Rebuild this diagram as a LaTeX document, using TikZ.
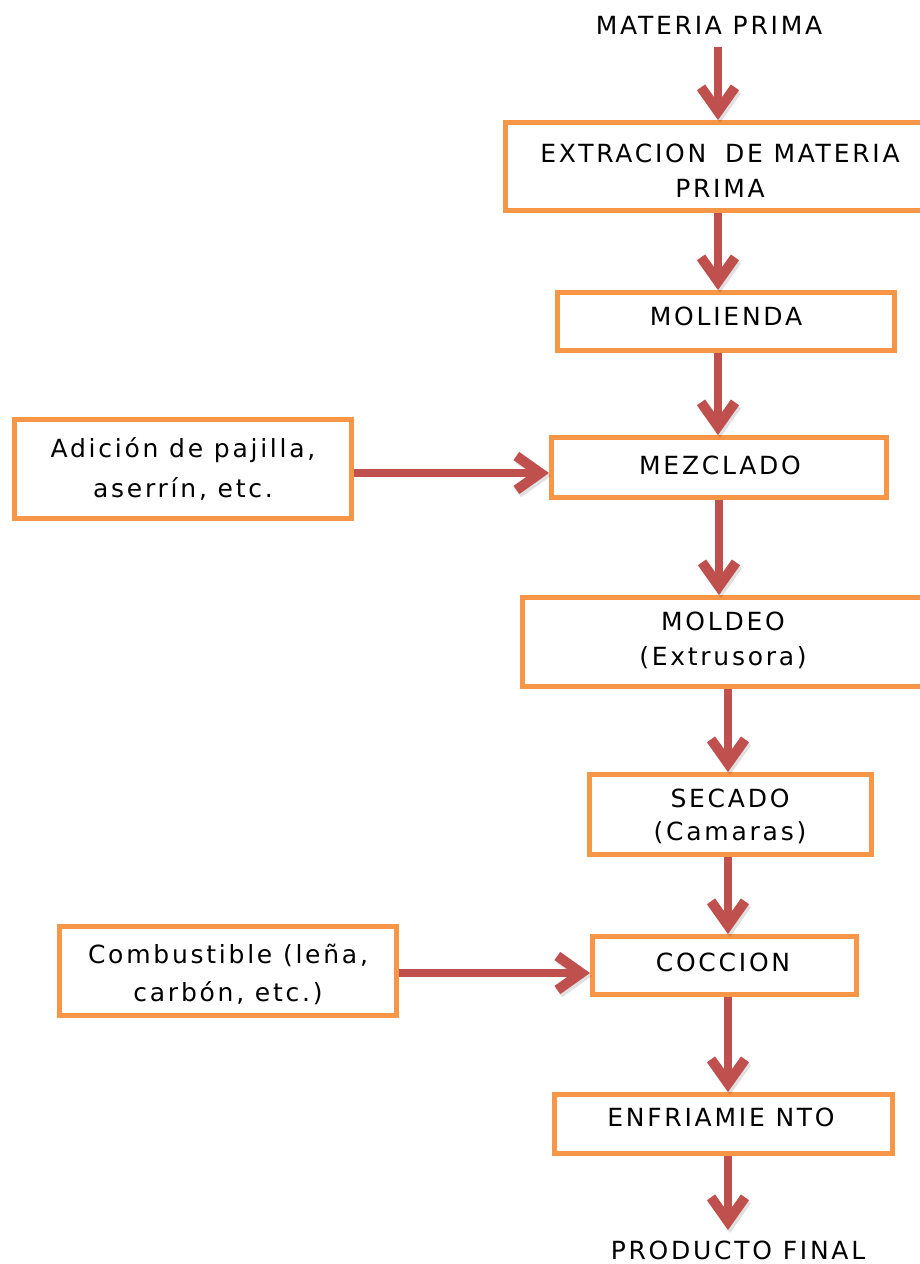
\documentclass[tikz,border=0pt]{standalone}
\usepackage{fontspec}
\setmainfont{DejaVu Sans}[LetterSpace=11]
\usetikzlibrary{arrows.meta}
\definecolor{boxorange}{HTML}{F79646}
\definecolor{flowred}{HTML}{C0504D}
\tikzset{
  stage/.style={draw=boxorange, line width=5pt, fill=white, inner sep=0pt},
  lbl/.style={font=\fontsize{25}{35}\selectfont, align=center, inner sep=0pt, text=black},
  flow/.style={draw=flowred, line width=8pt,
    -{Straight Barb[length=24pt, width=34pt, line width=10pt]},
    preaction={draw=black, opacity=0.12, transform canvas={shift={(2pt,-3pt)}}}},
}
\begin{document}
\begin{tikzpicture}[x=1pt, y=-1pt]
\useasboundingbox (0,0) rectangle (920,1264);
\clip (0,0) rectangle (920,1264);

% process stages
\node[stage, minimum width=429pt, minimum height=88pt] (ext)  at (720,166.5) {};
\node[stage, minimum width=337pt, minimum height=58pt] (mol)  at (726,321.5) {};
\node[stage, minimum width=335pt, minimum height=60pt] (mez)  at (719,467.5) {};
\node[stage, minimum width=401pt, minimum height=89pt] (mold) at (723,642) {};
\node[stage, minimum width=282pt, minimum height=80pt] (sec)  at (730.5,814.5) {};
\node[stage, minimum width=264pt, minimum height=58pt] (coc)  at (724.5,965.5) {};
\node[stage, minimum width=338pt, minimum height=59pt] (enf)  at (723.5,1124) {};

% side inputs
\node[stage, minimum width=337pt, minimum height=99pt] (adi) at (183,469) {};
\node[stage, minimum width=337pt, minimum height=89pt] (com) at (228,971) {};

% texts
\node[lbl] (mp)   at (709,25)  {MATERIA PRIMA};
\node[lbl] (extT) at (720,171) {EXTRACION\hspace{8pt} DE MATERIA\\PRIMA};
\node[lbl] (molT) at (726,316) {MOLIENDA};
\node[lbl] (mezT) at (720,465) {MEZCLADO};
\node[lbl] (moldT) at (723,640.5) {MOLDEO\\(Extrusora)};
\node[lbl] (secT) at (730,816.5) {SECADO\\[-2pt](Camaras)};
\node[lbl] (cocT) at (723,962) {COCCION};
\node[lbl] (enfT) at (721,1117) {ENFRIAMIE NTO};
\node[lbl] (pf)   at (738,1250) {PRODUCTO FINAL};
\node[lbl] (adiT) at (183,469) {Adición de pajilla,\\[5pt]aserrín, etc.};
\node[lbl] (comT) at (228,974) {Combustible (leña,\\[3pt]carbón, etc.)};

% guide columns and rows for the connectors
\coordinate (c1) at (718,0);
\coordinate (c2) at (719,0);
\coordinate (c3) at (728,0);
\coordinate (r1) at (0,473);
\coordinate (r2) at (0,973);

% main flow
\draw[flow] (c1 |- 0,47) -- (c1 |- ext.north);
\draw[flow] (c1 |- ext.south) -- (c1 |- mol.north);
\draw[flow] (c1 |- mol.south) -- (c1 |- mez.north);
\draw[flow] (c2 |- mez.south) -- (c2 |- mold.north);
\draw[flow] (c3 |- mold.south) -- (c3 |- sec.north);
\draw[flow] (c3 |- sec.south) -- (c3 |- coc.north);
\draw[flow] (c3 |- coc.south) -- (c3 |- enf.north);
\draw[flow] (c3 |- enf.south) -- (c3 |- 0,1230);

% inputs
\draw[flow] (adi.east |- r1) -- (mez.west |- r1);
\draw[flow] (com.east |- r2) -- (coc.west |- r2);
\end{tikzpicture}
\end{document}
